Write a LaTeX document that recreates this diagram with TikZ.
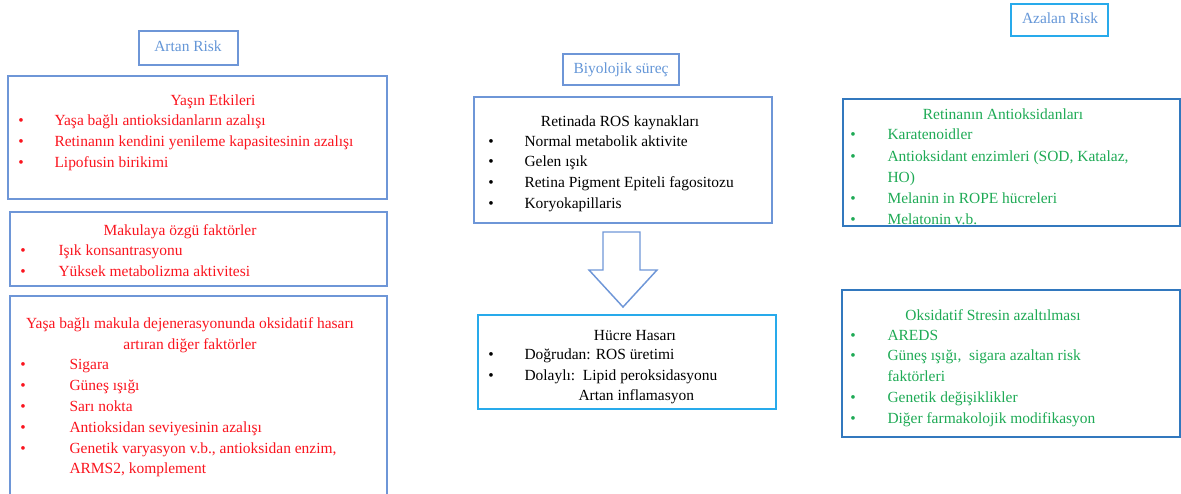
\documentclass[tikz,border=0pt]{standalone}
\usepackage{fontspec}
\setmainfont{Liberation Serif}
\definecolor{riskred}{RGB}{250,20,30}
\definecolor{azgreen}{RGB}{30,170,85}
\definecolor{lineblue}{RGB}{110,150,215}
\definecolor{linecyan}{RGB}{40,170,235}
\definecolor{linedark}{RGB}{50,120,190}
\definecolor{headblue}{RGB}{100,150,215}
\tikzset{every picture/.style={line width=0.75pt}}
\tikzset{
  boxline/.style={draw=lineblue, line width=1.1pt},
  txt/.style={anchor=west, inner sep=0.75pt, text height=1.7ex, text depth=0.45ex,
    font=\fontsize{11.6}{14}\selectfont},
  ctxt/.style={txt, anchor=center},
  bul/.style={txt, anchor=center},
  head/.style={ctxt, text=headblue}
}

\begin{document}
\begin{tikzpicture}[x=0.75pt,y=0.75pt,yscale=-1,xscale=1]
\useasboundingbox (0,0) rectangle (1181,493);

%Shape: Rectangle [Artan Risk]
\draw [boxline] (139,31) rectangle (238,65) ;
%Shape: Rectangle [Yasin Etkileri]
\draw [boxline] (8,76) rectangle (387,199) ;
%Shape: Rectangle [Makula]
\draw [boxline] (10,212) rectangle (387,286) ;
%Shape: Rectangle [Diger faktorler]
\draw [boxline] (10,296) rectangle (387,500) ;
%Shape: Rectangle [Biyolojik surec]
\draw [boxline] (563,54) rectangle (679,85) ;
%Shape: Rectangle [ROS]
\draw [boxline] (474,97) rectangle (772,223) ;
%Shape: Rectangle [Hucre Hasari]
\draw [boxline, draw=linecyan] (478,315) rectangle (776,409) ;
%Shape: Rectangle [Azalan Risk]
\draw [boxline, draw=linecyan] (1011,4) rectangle (1108,36) ;
%Shape: Rectangle [Oksidatif Stres]
\draw [boxline, draw=linedark] (842,290) rectangle (1180,437) ;
%Shape: Block Arrow
\draw [boxline] (603,232) -- (640,232) -- (640,270) -- (657,270) -- (623,307) -- (589,270) -- (603,270) -- cycle ;

% Text Node
\node (artan) [head] at (188,48) {Artan Risk};
% Text Node
\node (biyo) [head] at (621,70) {Biyolojik süreç};
% Text Node
\node (azalan) [head] at (1060,20) {Azalan Risk};

% Text Node
\begin{scope}[every node/.append style={text=riskred}]
\node (yasT) [ctxt] at (213,102) {Yaşın Etkileri};
\foreach \y/\t [count=\i] in {122/Yaşa bağlı antioksidanların azalışı,
    143/Retinanın kendini yenileme kapasitesinin azalışı,
    164/Lipofusin birikimi}{
  \node (yasB\i) [bul] at (21,\y) {•};
  \node (yas\i) [txt] at (53,\y) {\t};
}
\node (makT) [ctxt] at (180,232) {Makulaya özgü faktörler};
\foreach \y/\t [count=\i] in {252/Işık konsantrasyonu,
    273/Yüksek metabolizma aktivitesi}{
  \node (makB\i) [bul] at (23,\y) {•};
  \node (mak\i) [txt] at (57,\y) {\t};
}
\node (digT1) [ctxt] at (190,325) {Yaşa bağlı makula dejenerasyonunda oksidatif hasarı};
\node (digT2) [ctxt] at (190,346) {artıran diğer faktörler};
\foreach \y/\t [count=\i] in {366/Sigara, 387/Güneş ışığı, 408/Sarı nokta,
    429/Antioksidan seviyesinin azalışı,
    450/{Genetik varyasyon v.b., antioksidan enzim,}}{
  \node (digB\i) [bul] at (23,\y) {•};
  \node (dig\i) [txt] at (68,\y) {\t};
}
\node (dig6) [txt] at (68,470) {ARMS2, komplement};
\end{scope}

% Text Node
\node (rosT) [ctxt] at (620,123) {Retinada ROS kaynakları};
\foreach \y/\t [count=\i] in {143/Normal metabolik aktivite, 163/Gelen ışık,
    184/Retina Pigment Epiteli fagositozu, 205/Koryokapillaris}{
  \node (rosB\i) [bul] at (491,\y) {•};
  \node (ros\i) [txt] at (523,\y) {\t};
}
\node (hucT) [ctxt] at (635,337) {Hücre Hasarı};
\node (hucB1) [bul] at (491,356) {•};
\node (huc1) [txt] at (523,356) {Doğrudan: ROS üretimi};
\node (hucB2) [bul] at (491,377) {•};
\node (huc2) [txt] at (523,377) {Dolaylı:\ \ Lipid peroksidasyonu};
\node (huc3) [txt] at (577,397) {Artan inflamasyon};

% Text Node
\begin{scope}[every node/.append style={text=azgreen}]
\node (antT) [ctxt] at (1003,116) {Retinanın Antioksidanları};
\foreach \y/\t [count=\i] in {136/Karatenoidler,
    158/{Antioksidant enzimleri (SOD, Katalaz,},
    200/Melanin in ROPE hücreleri, 221/Melatonin v.b.}{
  \node (antB\i) [bul] at (853,\y) {•};
  \node (ant\i) [txt] at (886,\y) {\t};
}
\node (antX) [txt] at (886,179) {HO)};
\node (oksT) [ctxt] at (993,317) {Oksidatif Stresin azaltılması};
\foreach \y/\t [count=\i] in {337/AREDS, 357/{Güneş ışığı,\ \ sigara azaltan risk},
    399/Genetik değişiklikler, 420/Diğer farmakolojik modifikasyon}{
  \node (oksB\i) [bul] at (853,\y) {•};
  \node (oks\i) [txt] at (886,\y) {\t};
}
\node (oksX) [txt] at (886,378) {faktörleri};
\end{scope}

%Shape: Rectangle [Retinanin Antioksidanlari], drawn last so the last line is cut
\fill [white] (843,226.5) rectangle (1181,240) ;
\draw [boxline, draw=linedark] (843,99) rectangle (1180,226) ;

\end{tikzpicture}
\end{document}
